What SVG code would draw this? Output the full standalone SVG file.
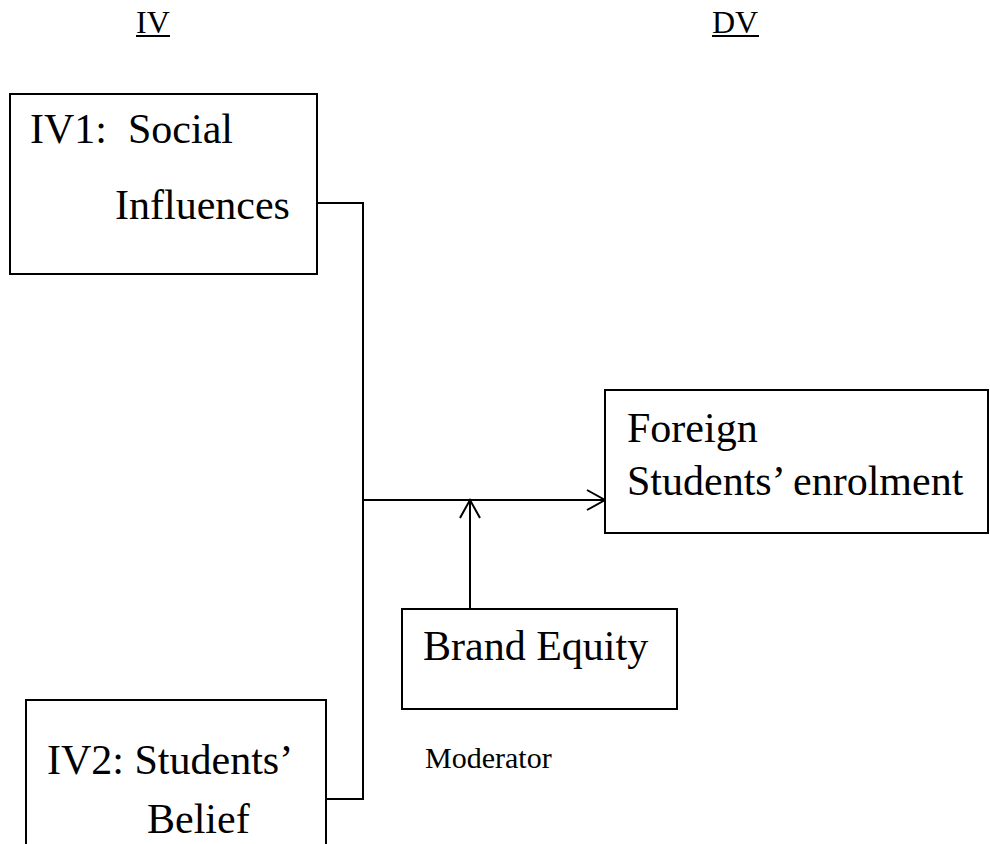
<svg xmlns="http://www.w3.org/2000/svg" width="990" height="844" viewBox="0 0 990 844">
  <defs>
    <marker id="arrow" markerUnits="userSpaceOnUse" markerWidth="22" markerHeight="24" refX="18" refY="10" orient="auto" overflow="visible">
      <path d="M0,0 L18,10 L0,20" fill="none" stroke="#000" stroke-width="2"/>
    </marker>
    <style>
      .box { fill: #fff; stroke: #000; stroke-width: 2; }
      .conn { fill: none; stroke: #000; stroke-width: 2; }
      .t { font-family: "Liberation Serif", "Times New Roman", serif; fill: #000; }
      .big { font-size: 42px; }
      .head { font-size: 32px; }
      .small { font-size: 30px; }
    </style>
  </defs>
  <rect width="990" height="844" fill="#fff"/>

  <g id="label-iv">
    <text class="t head" x="136" y="33">IV</text>
    <rect x="136" y="35" width="34" height="2" fill="#000"/>
  </g>
  <g id="label-dv">
    <text class="t head" x="712" y="33">DV</text>
    <rect x="712" y="35" width="47" height="2" fill="#000"/>
  </g>

  <g id="connectors">
    <polyline class="conn" points="317,203 363,203 363,799 326,799"/>
    <line class="conn" x1="363" y1="500" x2="605" y2="500" marker-end="url(#arrow)"/>
    <line class="conn" x1="470" y1="609" x2="470" y2="500" marker-end="url(#arrow)"/>
  </g>

  <g id="iv1">
    <rect class="box" x="10" y="94" width="307" height="180"/>
    <text class="t big" x="30" y="143" xml:space="preserve">IV1:  Social</text>
    <text class="t big" x="115" y="219">Influences</text>
  </g>

  <g id="iv2">
    <rect class="box" x="26" y="700" width="300" height="160"/>
    <text class="t big" x="47" y="774">IV2: Students’</text>
    <text class="t big" x="147" y="833">Belief</text>
  </g>

  <g id="dv">
    <rect class="box" x="605" y="390" width="383" height="143"/>
    <text class="t big" x="627" y="442">Foreign</text>
    <text class="t big" x="627" y="495">Students’ enrolment</text>
  </g>

  <g id="moderator">
    <rect class="box" x="402" y="609" width="275" height="100"/>
    <text class="t big" x="423" y="660">Brand Equity</text>
    <text class="t small" x="425" y="768">Moderator</text>
  </g>
</svg>
